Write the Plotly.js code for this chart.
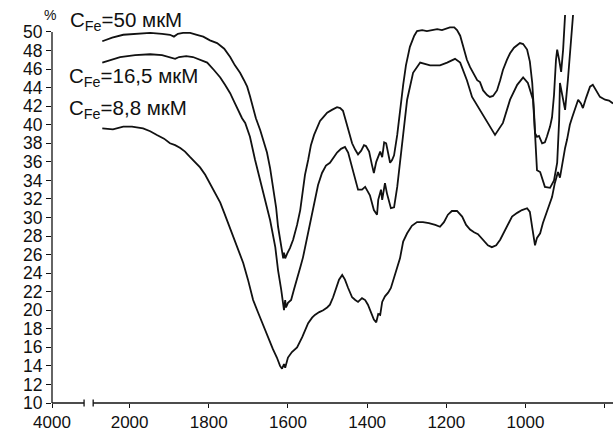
<!DOCTYPE html>
<html>
<head>
<meta charset="utf-8">
<script src="https://cdn.plot.ly/plotly-3.0.1.min.js"></script>
<style>html,body{margin:0;padding:0;background:#fff;}#chart{width:613px;height:433px;}</style>
</head>
<body>
<div id="chart"></div>
<script>
// Wavenumber (cm-1) for each curve; axis is broken between 4000 and ~2100
const wnA = [2069,2044,2016,1981,1948,1918,1898,1888,1878,1865,1847,1830,1814,1797,1779,1761,1746,1734,1721,1711,1703,1696,1688,1681,1670,1660,1653,1645,1638,1630,1625,1620,1615,1612,1610,1607,1602,1595,1587,1577,1569,1562,1557,1549,1542,1534,1526,1519,1509,1501,1489,1476,1468,1461,1453,1446,1438,1430,1423,1415,1408,1403,1395,1388,1383,1377,1372,1367,1362,1357,1352,1347,1342,1337,1332,1324,1317,1309,1302,1292,1281,1274,1261,1249,1236,1223,1211,1198,1191,1180,1173,1165,1158,1148,1140,1130,1122,1115,1107,1097,1090,1082,1072,1064,1057,1047,1039,1029,1021,1014,1006,996,989,983,978,976,971,966,958,951,946,938,933,928,923,920,915,910,905,898];
const tA = [49.0,49.4,49.7,49.8,49.9,49.8,49.7,49.5,49.8,49.9,49.9,49.7,49.5,49.1,48.8,48.2,47.3,46.4,45.6,44.8,44.1,43.1,41.9,40.7,39.4,38.0,37.0,35.3,33.3,31.1,29.0,27.6,26.3,25.6,26.2,25.6,26.1,26.7,27.6,29.2,30.8,33.0,34.6,36.2,37.8,38.9,39.8,40.4,40.9,41.3,41.6,41.9,41.8,41.5,40.3,39.1,38.0,37.3,36.8,37.2,37.8,37.7,37.1,35.7,34.8,36.0,36.6,37.1,36.5,38.1,38.0,37.1,35.9,36.2,36.7,38.9,41.6,44.3,46.4,48.4,49.6,50.1,50.2,50.1,50.2,50.3,50.2,50.4,50.5,50.5,50.2,49.6,48.4,47.0,46.2,45.4,44.8,44.6,43.7,43.2,43.0,43.1,43.7,44.8,45.9,47.0,47.7,48.3,48.6,48.8,48.7,48.1,46.8,44.5,41.0,39.1,38.7,38.8,38.0,38.1,38.7,39.8,40.8,43.2,47.0,48.1,47.0,45.7,48.1,53.4];

const wnB = [2069,2049,2024,1986,1948,1918,1898,1885,1875,1857,1840,1822,1804,1787,1771,1759,1746,1736,1726,1716,1708,1696,1683,1670,1658,1645,1632,1625,1617,1612,1610,1607,1605,1600,1592,1585,1577,1569,1562,1554,1544,1537,1529,1524,1514,1504,1494,1484,1476,1466,1456,1448,1436,1423,1413,1405,1393,1383,1375,1372,1365,1362,1355,1350,1340,1332,1324,1312,1299,1284,1266,1241,1216,1198,1178,1165,1148,1135,1115,1097,1077,1057,1039,1021,1006,994,981,976,971,963,951,938,928,920,915,913,905,900,893,882,877];
const tB = [46.7,47.0,47.3,47.5,47.6,47.5,47.3,47.1,47.3,47.4,47.3,47.0,46.7,45.9,45.1,44.3,43.4,42.5,41.6,40.7,40.2,38.7,36.2,34.0,31.9,29.7,26.8,24.3,22.2,20.8,20.0,21.1,20.3,20.8,21.1,22.2,23.3,24.6,25.7,27.4,29.4,30.8,32.4,33.5,34.8,35.6,35.9,36.5,37.0,37.4,37.6,37.0,35.1,33.0,33.0,33.3,32.4,30.8,30.3,31.9,33.0,31.9,33.7,32.6,31.0,31.1,33.3,38.0,42.7,45.6,46.7,46.4,46.4,46.7,47.1,46.7,44.8,43.0,41.6,40.2,38.9,40.2,42.7,44.3,45.1,44.5,42.7,39.1,35.1,34.9,33.3,33.2,34.0,35.9,40.5,44.5,42.7,41.6,44.8,51.6,53.4];

const wnC = [2069,2042,2016,1994,1966,1948,1931,1913,1898,1885,1872,1860,1847,1835,1822,1809,1797,1784,1771,1761,1751,1741,1728,1713,1701,1688,1675,1663,1650,1638,1628,1620,1615,1610,1607,1600,1590,1577,1564,1557,1549,1539,1532,1521,1511,1501,1494,1486,1479,1471,1463,1456,1448,1438,1430,1423,1413,1405,1398,1390,1383,1377,1372,1367,1362,1355,1347,1340,1332,1324,1317,1309,1299,1287,1274,1259,1244,1228,1216,1206,1196,1186,1173,1160,1150,1140,1130,1120,1107,1095,1085,1074,1064,1054,1044,1034,1021,1009,996,989,983,978,976,971,963,956,948,941,933,926,918,913,908,900,895,888,882,875,867,860,855,847,837,830,822,812,799,789,779];
const tC = [39.6,39.5,39.8,39.8,39.6,39.3,38.9,38.5,38.0,37.8,37.5,37.1,36.5,36.0,35.4,34.6,33.7,32.6,31.6,30.5,29.4,28.1,26.8,25.1,23.3,21.1,19.7,18.4,17.1,15.8,14.9,14.0,13.7,14.2,13.8,14.9,15.5,16.0,17.1,17.9,18.6,19.2,19.5,19.8,20.0,20.3,20.6,21.4,22.3,23.3,23.8,23.3,22.4,21.4,21.1,20.9,21.3,21.1,20.6,19.7,19.0,18.7,19.6,19.5,20.9,21.5,21.9,22.4,23.5,24.7,25.6,27.4,28.3,29.1,29.5,29.5,29.4,29.2,29.0,29.5,30.3,30.7,30.7,30.1,29.2,28.7,28.4,28.2,27.6,27.0,26.8,27.0,27.6,28.4,29.3,30.1,30.5,30.8,31.0,30.6,28.9,27.3,27.0,27.8,28.3,29.4,30.3,31.1,32.2,33.7,34.9,34.3,35.7,37.5,38.4,40.0,40.8,41.8,42.7,42.3,41.8,42.9,44.1,44.3,43.7,43.0,42.7,42.6,42.3];

// Tick labels (4000 sits left of the axis break)
const xTickVals = [2196,2000,1800,1600,1400,1200,1000,800];
const xTickText = ["4000","2000","1800","1600","1400","1200","1000","800"];
const yTickVals = [10,12,14,16,18,20,22,24,26,28,30,32,34,36,38,40,42,44,46,48,50];

const labels = ["C<sub>Fe</sub>=50 мкМ","C<sub>Fe</sub>=16,5 мкМ","C<sub>Fe</sub>=8,8 мкМ"];

// axis geometry
const xRange = [2196, 779];
const yRange = [10, 51.83];
const breakAt = [2115, 2092];
const px = w => (xRange[0] - w) / (xRange[0] - xRange[1]);
const py = v => (v - yRange[0]) / (yRange[1] - yRange[0]);

const lineStyle = {color:'#111', width:1.8};
const traces = [
  {x:wnA, y:tA, mode:'lines', line:lineStyle, hoverinfo:'skip'},
  {x:wnB, y:tB, mode:'lines', line:lineStyle, hoverinfo:'skip'},
  {x:wnC, y:tC, mode:'lines', line:lineStyle, hoverinfo:'skip'}
];

const FONT = 'Liberation Sans, Arial, sans-serif';
const axLine = {color:'#111', width:1.3};
const layout = {
  width:613, height:433,
  margin:{l:52, r:0, t:15, b:30, pad:0},
  paper_bgcolor:'#fff', plot_bgcolor:'#fff',
  showlegend:false,
  font:{family:FONT, color:'#111'},
  xaxis:{
    range:xRange, showgrid:false, zeroline:false, showline:false,
    tickmode:'array', tickvals:xTickVals, ticktext:xTickText,
    ticks:'outside', ticklen:4, tickwidth:1, tickcolor:'#111',
    tickfont:{family:FONT, size:17, color:'#111'}
  },
  yaxis:{
    range:yRange, showgrid:false, zeroline:false, showline:false,
    tickmode:'array', tickvals:yTickVals,
    ticks:'outside', ticklen:5, tickwidth:1, tickcolor:'#111',
    tickfont:{family:FONT, size:17.5, color:'#111'}
  },
  shapes:[
    {type:'line', xref:'paper', yref:'paper', x0:0, x1:0, y0:0, y1:py(50), line:axLine},
    {type:'line', xref:'paper', yref:'paper', x0:0, x1:px(breakAt[0]), y0:0, y1:0, line:axLine},
    {type:'line', xref:'paper', yref:'paper', x0:px(breakAt[1]), x1:1, y0:0, y1:0, line:axLine},
    {type:'line', xref:'paper', yref:'paper', x0:px(breakAt[0]), x1:px(breakAt[0]), y0:-0.009, y1:0.009, line:axLine},
    {type:'line', xref:'paper', yref:'paper', x0:px(breakAt[1]), x1:px(breakAt[1]), y0:-0.009, y1:0.009, line:axLine}
  ],
  annotations:[
    {xref:'paper', yref:'paper', x:-0.004, y:1, xanchor:'center', yanchor:'middle', yshift:0, text:'%', showarrow:false, font:{family:FONT, size:14, color:'#111'}},
    {xref:'paper', yref:'y', x:0.0285, y:51.15, xanchor:'left', yanchor:'middle', text:labels[0], showarrow:false, font:{family:FONT, size:20.5, color:'#111'}},
    {xref:'paper', yref:'y', x:0.0267, y:45.1, xanchor:'left', yanchor:'middle', text:labels[1], showarrow:false, font:{family:FONT, size:20.5, color:'#111'}},
    {xref:'paper', yref:'y', x:0.0267, y:41.65, xanchor:'left', yanchor:'middle', text:labels[2], showarrow:false, font:{family:FONT, size:20.5, color:'#111'}}
  ]
};

Plotly.newPlot('chart', traces, layout, {staticPlot:true, displayModeBar:false});
</script>
</body>
</html>
